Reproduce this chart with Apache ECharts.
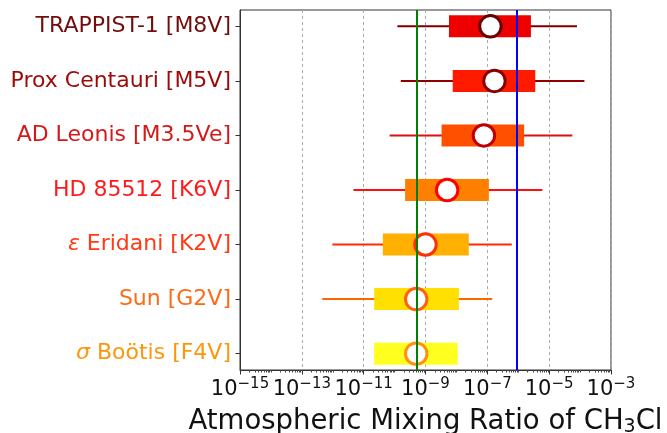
<!DOCTYPE html>
<html>
<head>
<meta charset="utf-8">
<script src="https://cdn.jsdelivr.net/npm/echarts@6/dist/echarts.min.js"></script>
<style>
html, body { margin: 0; padding: 0; background: #fff; }
#main { width: 667px; height: 433px; }
</style>
</head>
<body>
<div id="main"></div>
<script>
// values are log10 of the CH3Cl mixing ratio
const stars = ['TRAPPIST-1 [M8V]', 'Prox Centauri [M5V]', 'AD Leonis [M3.5Ve]', 'HD 85512 [K6V]', 'ε Eridani [K2V]', 'Sun [G2V]', 'σ Boötis [F4V]'];
const whiskerLow = [-9.91, -9.80, -10.16, -11.33, -12.01, -12.34, null];
const boxLow = [-8.24, -8.12, -8.48, -9.66, -10.38, -10.66, -10.66];
const median = [-6.90, -6.77, -7.11, -8.30, -9.00, -9.30, -9.30];
const boxHigh = [-5.59, -5.45, -5.81, -6.95, -7.60, -7.92, -7.96];
const whiskerHigh = [-4.10, -3.86, -4.25, -5.22, -6.21, -6.84, null];
const greenLine = -9.27;
const blueLine = -6.04;
const majorTicks = [-15, -13, -11, -9, -7, -5, -3];

// colours per star (top to bottom)
const labelColors = ['#730d0d', '#9c0a0a', '#d21a1a', '#ff1a1a', '#ff3a14', '#ff6a14', '#ff960a'];
const boxColors = ['#ee0000', '#ff1a00', '#ff5000', '#ff8000', '#ffb000', '#ffe000', '#ffff20'];
const whiskerColors = ['#7a0000', '#900000', '#dc1010', '#ff1010', '#ff2a00', '#ff6600', '#ff9000'];
const edgeColors = ['#6a0000', '#880000', '#c00000', '#ff0000', '#ff3000', '#ff6010', '#ff9010'];

// minor ticks of a log axis: 2..9 x 10^n, plus the unlabelled decades
const minorTicks = [];
for (let d = -15; d < -3; d++) {
    for (let k = 1; k <= 9; k++) {
        if (k === 1 && majorTicks.indexOf(d) >= 0) continue;
        minorTicks.push(d + Math.log10(k));
    }
}

const font = 'DejaVu Sans';
const yRich = {};
labelColors.forEach((c, i) => {
    yRich['c' + i] = { color: c, fontSize: 22, fontFamily: font };
    yRich['g' + i] = { color: c, fontSize: 22, fontFamily: font, fontStyle: 'italic' };
});

const chart = echarts.init(document.getElementById('main'));
chart.setOption({
    animation: false,
    grid: {
        left: 240, right: 56, top: 10, bottom: 63,
        outerBoundsMode: 'none', containLabel: false,
        show: true, borderColor: '#333', borderWidth: 1
    },
    xAxis: [{
        type: 'value',
        min: -15,
        max: -3,
        axisLine: { onZero: false, lineStyle: { color: '#333' } },
        axisTick: { customValues: majorTicks, length: 4.5, lineStyle: { color: '#333' } },
        axisLabel: {
            customValues: majorTicks,
            margin: 7,
            formatter: v => '{b|10}{s|\u2212' + Math.abs(v) + '}',
            rich: {
                b: { fontSize: 21, fontFamily: font, color: '#111' },
                s: { fontSize: 15, fontFamily: font, color: '#111', padding: [0, 0, 10, 0] }
            }
        },
        splitLine: { show: true, lineStyle: { color: '#aaa', type: [3, 3], width: 1 } },
        name: '{t|Atmospheric Mixing Ratio of CH}{u|3}{t|Cl}',
        nameLocation: 'middle',
        nameGap: 37,
        nameTextStyle: {
            rich: {
                t: { fontSize: 27.5, fontFamily: font, color: '#111' },
                u: { fontSize: 19, fontFamily: font, color: '#111', padding: [11, 0, 0, 0] }
            }
        }
    }, {
        type: 'value',
        min: -15,
        max: -3,
        position: 'bottom',
        axisLine: { show: false, onZero: false },
        axisTick: { customValues: minorTicks, length: 2.5, lineStyle: { color: '#444' } },
        axisLabel: { show: false },
        splitLine: { show: false }
    }],
    yAxis: {
        type: 'value',
        min: -0.3,
        max: 6.3,
        inverse: true,
        axisLine: { show: true, onZero: false, lineStyle: { color: '#333' } },
        axisTick: { show: true, customValues: [0, 1, 2, 3, 4, 5, 6], length: 4.5, lineStyle: { color: '#333' } },
        axisLabel: {
            customValues: [0, 1, 2, 3, 4, 5, 6],
            margin: 9,
            formatter: v => {
                const name = stars[v];
                const first = name[0];
                if (first === 'ε' || first === 'σ') {
                    return '{g' + v + '|' + first + '}{c' + v + '|' + name.slice(1) + '}';
                }
                return '{c' + v + '|' + name + '}';
            },
            rich: yRich
        },
        splitLine: { show: false }
    },
    series: [{
        type: 'line',
        data: [],
        z: 1,
        markLine: {
            silent: true,
            symbol: 'none',
            label: { show: false },
            lineStyle: { width: 2, type: 'solid' },
            data: [
                { xAxis: greenLine, lineStyle: { color: '#008000', width: 2, type: 'solid' } },
                { xAxis: blueLine, lineStyle: { color: '#0000ff', width: 2, type: 'solid' } }
            ]
        }
    }, {
        type: 'custom',
        z: 2,
        encode: { x: [1, 2, 3, 4], y: 0 },
        data: stars.map((s, i) => [i, whiskerLow[i], boxLow[i], boxHigh[i], whiskerHigh[i]]),
        renderItem: (params, api) => {
            const i = api.value(0);
            const y = api.coord([-15, i])[1];
            const children = [];
            const wl = api.value(1), wh = api.value(4);
            if (!isNaN(wl) && !isNaN(wh)) {
                children.push({
                    type: 'line',
                    shape: { x1: api.coord([wl, i])[0], y1: y, x2: api.coord([wh, i])[0], y2: y },
                    style: { stroke: whiskerColors[i], lineWidth: 2 }
                });
            }
            const x0 = api.coord([api.value(2), i])[0];
            const x1 = api.coord([api.value(3), i])[0];
            children.push({
                type: 'rect',
                shape: { x: x0, y: y - 11, width: x1 - x0, height: 22 },
                style: { fill: boxColors[i] }
            });
            return { type: 'group', children: children };
        }
    }, {
        type: 'scatter',
        z: 3,
        symbol: 'circle',
        symbolSize: 21.5,
        data: median.map((m, i) => ({ value: [m, i], itemStyle: { borderColor: edgeColors[i] } })),
        itemStyle: { color: '#fff', borderWidth: 3, opacity: 1 }
    }]
});
</script>
</body>
</html>
